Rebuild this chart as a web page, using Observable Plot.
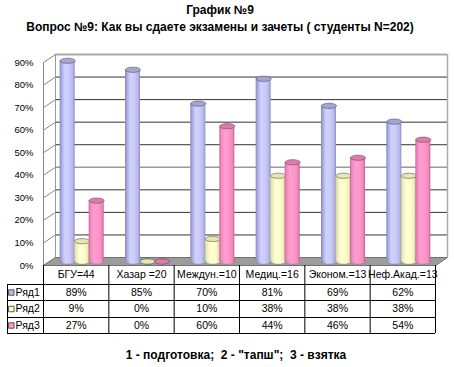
<!DOCTYPE html>
<html><head><meta charset="utf-8">
<script src="https://cdn.jsdelivr.net/npm/d3@7"></script>
<script src="https://cdn.jsdelivr.net/npm/@observablehq/plot@0.6"></script>
<style>
body{margin:0;background:#fff;font-family:Arial,"Liberation Sans",sans-serif;color:#000;}
#title{width:440px;text-align:center;font-weight:bold;font-size:12px;line-height:14px;padding-top:3px;height:14px;}
#subtitle{width:440px;text-align:center;font-weight:bold;font-size:12px;line-height:14px;padding-top:3px;height:16px;}
#chart svg{display:block;}
#footer{width:436px;padding-left:18px;text-align:center;font-weight:bold;font-size:12px;line-height:14px;margin-top:12px;white-space:pre;}
</style></head>
<body>
<div id="title"></div>
<div id="subtitle"></div>
<div id="chart"></div>
<div id="footer"></div>
<script>
// ---- data ----
const titleText = "График №9";
const subtitleText = "Вопрос №9: Как вы сдаете экзамены и зачеты ( студенты N=202)";
const footerText = "1 - подготовка;  2 - \"тапш\";  3 - взятка";
const categories = ["БГУ=44", "Хазар =20", "Междун.=10", "Медиц.=16", "Эконом.=13", "Неф.Акад.=13"];
const series = ["Ряд1", "Ряд2", "Ряд3"];
const values1 = [89, 85, 70, 81, 69, 62];
const values2 = [9, 0, 10, 38, 38, 38];
const values3 = [27, 0, 60, 44, 46, 54];
const yTicks = [0, 10, 20, 30, 40, 50, 60, 70, 80, 90];

document.getElementById("title").textContent = titleText;
document.getElementById("subtitle").textContent = subtitleText;
document.getElementById("footer").textContent = footerText;

const allValues = [values1, values2, values3];
const rows = allValues.flatMap((vals, j) => vals.map((v, i) => ({i, j, v, cat: categories[i], s: series[j]})));

// ---- geometry / style ----
const XR = [43, 435], YR = [229, 26];
const ppx = (XR[1] - XR[0]) / categories.length;
const ppy = (YR[0] - YR[1]) / 90;
const ux = p => p / ppx, uy = p => p / ppy;
const DX = 12, DY = 8;           // 3D depth offsets (px)
const BAR_STEP = 14.5, BAR_HW = 7.5;
const barCenter = d => d.i + 0.5 + ux((d.j - 1) * BAR_STEP);
const ROW_LINES = [19, 35, 52, 68];
const rowCenter = j => 27 + 16.5 * j;

const palettes = [
  {stops: [[0, "#8484BC"], [0.12, "#A8A8DE"], [0.35, "#D2D2FF"], [0.65, "#CACAFA"], [0.88, "#B4B4E8"], [1, "#8C8CC4"]], top: "#A4A4D8"},
  {stops: [[0, "#C8C890"], [0.12, "#EAEAB8"], [0.35, "#FFFFD4"], [0.65, "#FFFFCC"], [0.88, "#EEEEBC"], [1, "#C4C494"]], top: "#E6E6B0"},
  {stops: [[0, "#C86496"], [0.12, "#F088BC"], [0.35, "#FF9ED0"], [0.65, "#FF96CA"], [0.88, "#EE88BA"], [1, "#C06090"]], top: "#E07AAE"}
];
const legendColors = ["#B8B8F0", "#FFFFCC", "#FF99CC"];

const ellipse = (rx, ry) => ({
  draw(ctx) {
    const k = 0.5523;
    ctx.moveTo(-rx, 0);
    ctx.bezierCurveTo(-rx, -ry * k, -rx * k, -ry, 0, -ry);
    ctx.bezierCurveTo(rx * k, -ry, rx, -ry * k, rx, 0);
    ctx.bezierCurveTo(rx, ry * k, rx * k, ry, 0, ry);
    ctx.bezierCurveTo(-rx * k, ry, -rx, ry * k, -rx, 0);
    ctx.closePath();
  }
});

const defs = () => {
  const d = d3.create("svg:defs");
  palettes.forEach((p, j) => {
    const g = d.append("linearGradient").attr("id", "cyl" + j)
      .attr("x1", "0").attr("x2", "1").attr("y1", "0").attr("y2", "0");
    p.stops.forEach(([o, c]) => g.append("stop").attr("offset", o).attr("stop-color", c));
  });
  return d.node();
};

const floorPts = [
  {x: 0, y: 0}, {x: categories.length, y: 0},
  {x: categories.length + ux(DX), y: uy(DY)}, {x: ux(DX), y: uy(DY)}, {x: 0, y: 0}
];

const barMarks = [0, 1, 2].flatMap(j => {
  const data = rows.filter(d => d.j === j);
  return [
    Plot.dot(data, {x: barCenter, y: 0, symbol: ellipse(BAR_HW, 2.6), fill: `url(#cyl${j})`, stroke: "#888", strokeWidth: 0.5, dx: DX / 2, dy: -DY / 2}),
    Plot.rect(data, {x1: d => barCenter(d) - ux(BAR_HW), x2: d => barCenter(d) + ux(BAR_HW), y1: 0, y2: "v", fill: `url(#cyl${j})`, dx: DX / 2, dy: -DY / 2}),
    Plot.dot(data, {x: barCenter, y: "v", symbol: ellipse(BAR_HW, 2.6), fill: palettes[j].top, stroke: "#555", strokeWidth: 0.6, dx: DX / 2, dy: -DY / 2})
  ];
});

const chart = Plot.plot({
  width: 454, height: 300, margin: 0,
  x: {type: "linear", domain: [0, categories.length], range: XR, axis: null},
  y: {type: "linear", domain: [0, 90], range: YR, axis: null},
  color: {type: "ordinal", domain: series, range: legendColors},
  style: {fontFamily: "Arial, 'Liberation Sans', sans-serif", fontSize: "10px", background: "white", overflow: "visible", color: "#000"},
  marks: [
    defs,
    // back wall gridlines
    Plot.ruleY(yTicks.filter(t => t > 0 && t < 90 && t !== 40), {x1: 0, x2: categories.length, dx: DX, dy: -DY, stroke: "#333", strokeWidth: 1}),
    Plot.ruleY([40], {x1: 0, x2: categories.length, dx: DX, dy: -DY, stroke: "#9a9a9a", strokeWidth: 1.5}),
    Plot.ruleY([90], {x1: 0, x2: categories.length, dx: DX, dy: -DY, stroke: "#aaa", strokeWidth: 2}),
    Plot.ruleX([0], {y1: 0, y2: 90, dx: DX, dy: -DY, stroke: "#999"}),
    Plot.ruleX([categories.length], {y1: 0, y2: 90, dx: DX, dy: -DY, stroke: "#aaa", strokeWidth: 1.5}),
    // left wall
    Plot.link(yTicks, {x1: 0, y1: d => d, x2: ux(DX), y2: d => d + uy(DY), stroke: "#888"}),
    Plot.ruleX([0], {y1: 0, y2: 90, stroke: "#888"}),
    // floor
    Plot.line(floorPts, {x: "x", y: "y", fill: "#9c9c9c", stroke: "#707070", strokeWidth: 1}),
    // bars
    ...barMarks,
    // y axis labels
    Plot.text(yTicks, {x: 0, y: d => d, text: d => d + "%", textAnchor: "end", dx: -10, fontSize: 9.5, fill: "#000"}),
    // data table
    Plot.ruleY(ROW_LINES.map(p => -uy(p)), {x1: ux(7 - XR[0]), x2: categories.length, stroke: "#000"}),
    Plot.ruleX(d3.range(categories.length + 1), {y1: 0, y2: -uy(ROW_LINES[3]), stroke: "#000"}),
    Plot.ruleX([ux(7 - XR[0])], {y1: -uy(ROW_LINES[0]), y2: -uy(ROW_LINES[3]), stroke: "#000"}),
    Plot.text(categories, {x: (d, i) => i + 0.5, y: -uy(9.5), text: d => d, fontSize: 10.5, fill: "#000"}),
    Plot.text(rows, {x: d => d.i + 0.5, y: d => -uy(rowCenter(d.j)), text: d => d.v + "%", fontSize: 10.5, fill: "#000"}),
    Plot.dot(series, {x: ux(10.8 - XR[0]), y: (d, j) => -uy(rowCenter(j)), symbol: "square", r: 3.1, fill: d => d, stroke: "#333", strokeWidth: 0.8}),
    Plot.text(series, {x: ux(15 - XR[0]), y: (d, j) => -uy(rowCenter(j)), text: d => d, textAnchor: "start", fontSize: 10.5, fill: "#000"})
  ]
});
document.getElementById("chart").appendChild(chart);
</script>
</body></html>
